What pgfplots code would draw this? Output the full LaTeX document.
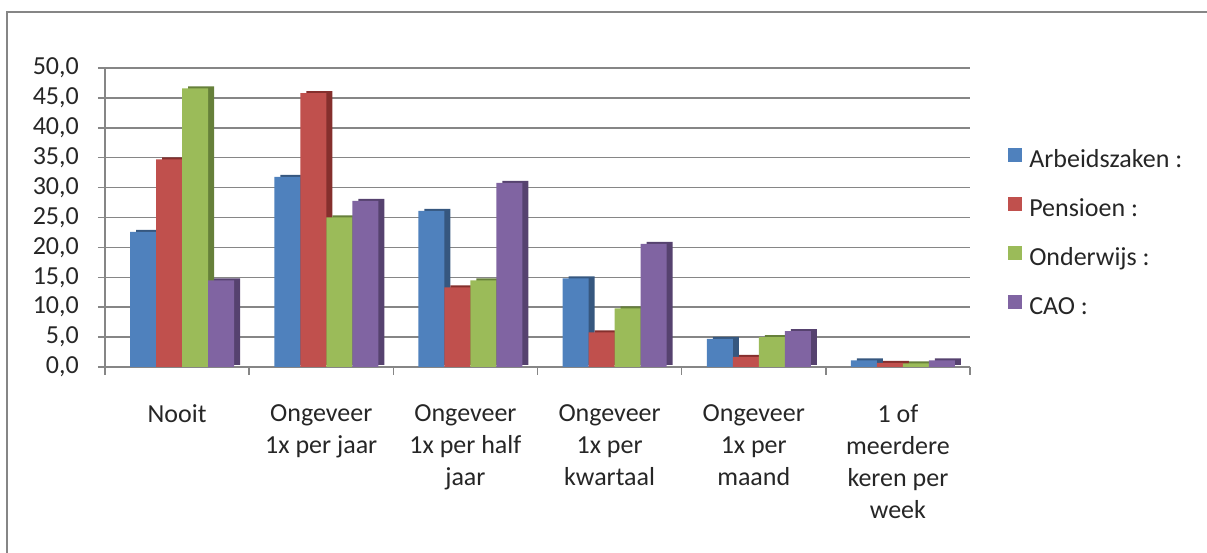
\documentclass[border=0pt]{standalone}
\usepackage{fontspec}
\setmainfont{Carlito}
\usepackage{pgfplots}
\pgfplotsset{compat=1.18}
\definecolor{cA}{HTML}{4F81BD}
\definecolor{cP}{HTML}{C0504D}
\definecolor{cO}{HTML}{9BBB59}
\definecolor{cC}{HTML}{8064A2}
\definecolor{cAd}{HTML}{36577F}
\definecolor{cPd}{HTML}{852F2D}
\definecolor{cOd}{HTML}{66803A}
\definecolor{cCd}{HTML}{56426F}
\definecolor{gridc}{HTML}{868686}
\begin{document}
\begin{tikzpicture}[x=1pt,y=1pt]
\useasboundingbox (0,0) rectangle (1207,553);
\begin{scope}
\clip (0,0) rectangle (1207,553);
\draw[line width=1.5pt, gridc] (7,-50) -- (7,541) -- (1300,541);
\end{scope}
\begin{axis}[
  at={(105pt,186pt)}, anchor=south west,
  scale only axis, width=865pt, height=299pt,
  xmin=-0.5, xmax=5.5, ymin=0, ymax=50,
  axis x line=bottom, axis y line=left,
  axis line style={-, gridc, line width=1.5pt},
  ytick={0,5,...,50},
  xtick={0,...,5},
  minor xtick={-0.5,0.5,...,5.5},
  tick align=outside,
  major x tick style={draw=none},
  minor tick style={gridc, line width=1.5pt},
  major y tick style={gridc, line width=1.5pt},
  major tick length=7pt, minor tick length=8pt,
  ymajorgrids, grid style={gridc, line width=1.5pt},
  tick label style={font=\fontsize{26}{32}\selectfont, text=black!85},
  xticklabels={Nooit, Ongeveer\\1x per jaar, Ongeveer\\1x per half\\jaar, Ongeveer\\1x per\\kwartaal, Ongeveer\\1x per\\maand, 1 of\\meerdere\\keren per\\week},
  xticklabel style={align=center, anchor=north, inner sep=0pt, yshift=-30pt},
  yticklabel style={anchor=east, inner sep=0pt, xshift=-19pt},
  /pgf/number format/.cd, fixed, fixed zerofill, precision=1, use comma, assume math mode=true,
  /pgfplots/.cd,
  legend style={draw=none, fill=none, at={(1.044,0.733)}, anchor=north west,
    font=\fontsize{26}{32}\selectfont, text=black!85,
    row sep=24pt, inner sep=0pt,
    nodes={inner sep=0pt, text height=18pt, text depth=6pt, anchor=west},
    /tikz/every odd column/.append style={column sep=7pt}},
  legend cell align=left,
  mybar/.style={ybar, bar width=26pt, draw=none,
    legend image code/.code={\fill[##1] (0pt,-1pt) rectangle (14pt,13pt);}},
  darkbar/.style={ybar, bar width=26pt, draw=none, forget plot, yshift=2pt},
]
% side faces
\addplot[darkbar, fill=cAd, bar shift=-28pt] coordinates {(0,22.6) (1,31.8) (2,26.1) (3,14.8) (4,4.7) (5,1.1)};
\addplot[darkbar, fill=cPd, bar shift=-2pt] coordinates {(0,34.7) (1,45.8) (2,13.3) (3,5.8) (4,1.7) (5,0.7)};
\addplot[darkbar, fill=cOd, bar shift=24pt] coordinates {(0,46.6) (1,25.0) (2,14.5) (3,9.8) (4,5.0) (5,0.6)};
\addplot[darkbar, fill=cCd, bar shift=50pt] coordinates {(0,14.5) (1,27.8) (2,30.8) (3,20.6) (4,6.0) (5,1.1)};
% front faces
\addplot[mybar, fill=cA, bar shift=-34pt] coordinates {(0,22.6) (1,31.8) (2,26.1) (3,14.8) (4,4.7) (5,1.1)};
\addplot[mybar, fill=cP, bar shift=-8pt] coordinates {(0,34.7) (1,45.8) (2,13.3) (3,5.8) (4,1.7) (5,0.7)};
\addplot[mybar, fill=cO, bar shift=18pt] coordinates {(0,46.6) (1,25.0) (2,14.5) (3,9.8) (4,5.0) (5,0.6)};
\addplot[mybar, fill=cC, bar shift=44pt] coordinates {(0,14.5) (1,27.8) (2,30.8) (3,20.6) (4,6.0) (5,1.1)};
\legend{Arbeidszaken :, Pensioen :, Onderwijs :, CAO :}
\end{axis}
\end{tikzpicture}
\end{document}
